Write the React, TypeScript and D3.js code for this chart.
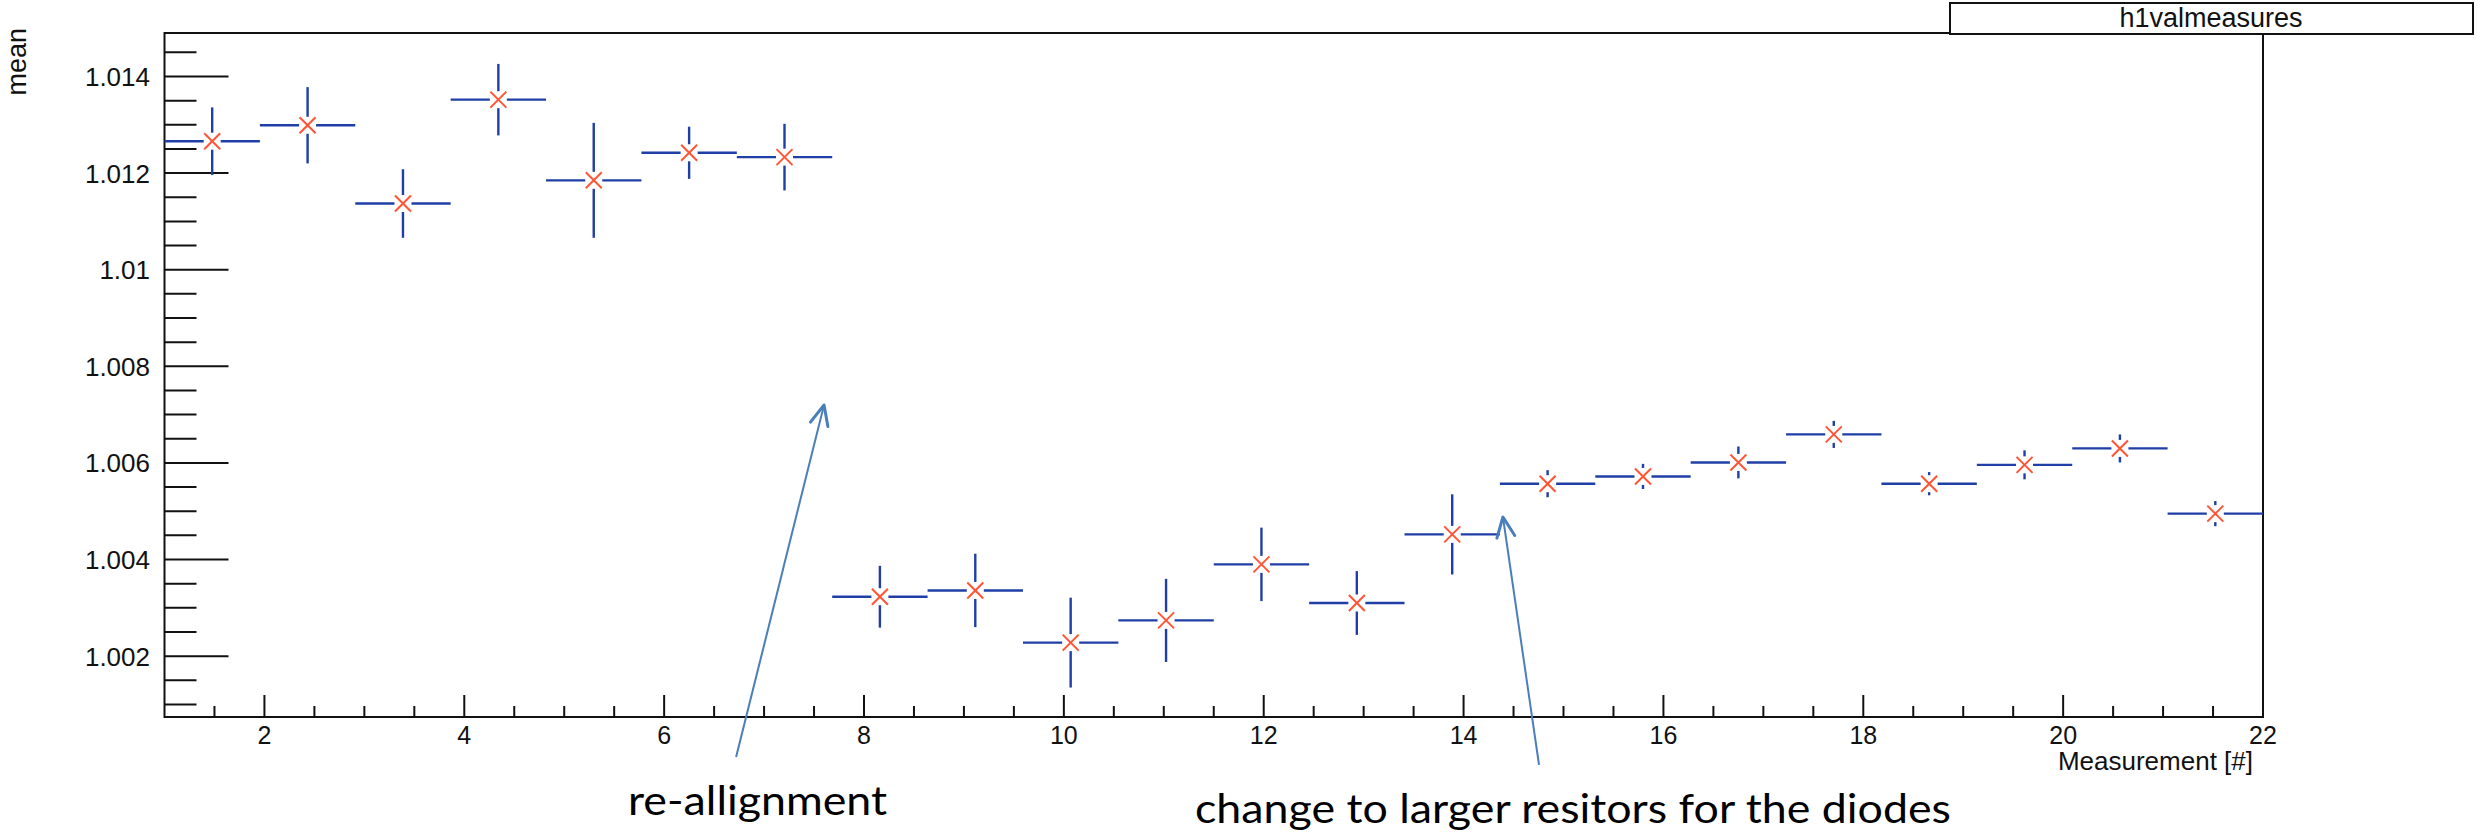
import * as d3 from 'd3';

// histogram h1valmeasures: 22 bins on [1, 22]
const nBins = 22;
const xLow = 1;
const xHigh = 22;

const means = [
  1.01266, 1.01299, 1.01137, 1.01352, 1.01185, 1.01242, 1.01233,
  1.00323, 1.00336, 1.00228, 1.00274, 1.0039, 1.0031, 1.00452,
  1.00557, 1.00572, 1.00601, 1.00659, 1.00557, 1.00596, 1.0063, 1.00495,
];
const errors = [
  0.0007, 0.00079, 0.00071, 0.00074, 0.00119, 0.00054, 0.00069,
  0.00064, 0.00076, 0.00093, 0.00086, 0.00076, 0.00066, 0.00083,
  0.00028, 0.00026, 0.00033, 0.00028, 0.00024, 0.0003, 0.00029, 0.00026,
];

const xMajorTicks = [2, 4, 6, 8, 10, 12, 14, 16, 18, 20, 22];
const yMajorTicks = [1.002, 1.004, 1.006, 1.008, 1.01, 1.012, 1.014];
const yTickLabels = ['1.002', '1.004', '1.006', '1.008', '1.01', '1.012', '1.014'];
const yDomain: [number, number] = [1.00074, 1.0149];

const histTitle = 'h1valmeasures';
const xTitle = 'Measurement [#]';
const yTitle = 'mean';

// arrows in data coordinates (tail below the axis, tip inside the frame)
const notes = [
  { text: 're-allignment', tail: [6.72, 0.99991], tip: [7.6, 1.0072] },
  { text: 'change to larger resitors for the diodes', tail: [14.755, 0.99975], tip: [14.394, 1.00488] },
];
const noteLayout = [
  { x: 628, y: 815, w: 259 },
  { x: 1195, y: 823, w: 756 },
];

const W = 2484;
const H = 836;
const frame = { left: 164.5, right: 2263, top: 33, bottom: 717 };
const rootFont = '"Liberation Sans", Arial, Helvetica, sans-serif';
const errColor = '#1f3ea6';
const markColor = '#ff5435';
const arrowColor = '#4a7ebb';

export default function App() {
  const x = d3.scaleLinear().domain([xLow, xHigh]).range([frame.left, frame.right]);
  const y = d3.scaleLinear().domain(yDomain).range([frame.bottom, frame.top]);
  const binW = (xHigh - xLow) / nBins;

  const xMinor = d3.range(3, 44).map(i => i * 0.5).filter(v => v > xLow && v < xHigh && v % 2 !== 0);
  const yMinor = d3.range(0, 40)
    .map(i => Math.round((1.0005 + i * 0.0005) * 1e5) / 1e5)
    .filter(v => v > yDomain[0] && v < yDomain[1] && !yMajorTicks.some(t => Math.abs(t - v) < 1e-7));

  const gap = 8.5;
  const ms = 8;

  return (
    <svg width={W} height={H} style={{ position: 'absolute', left: 0, top: 0, background: '#fff' }}>
      {/* frame */}
      <rect x={frame.left} y={frame.top} width={frame.right - frame.left} height={frame.bottom - frame.top}
        fill="none" stroke="#111" strokeWidth={2} />

      {/* y axis ticks */}
      {yMajorTicks.map((t, i) => (
        <g key={'ym' + i}>
          <line x1={frame.left} x2={frame.left + 64} y1={y(t)} y2={y(t)} stroke="#111" strokeWidth={2} />
          <text x={150} y={y(t) + 9.5} textAnchor="end" fontFamily={rootFont} fontSize={26} fill="#111">
            {yTickLabels[i]}
          </text>
        </g>
      ))}
      {yMinor.map((t, i) => (
        <line key={'yn' + i} x1={frame.left} x2={frame.left + 32} y1={y(t)} y2={y(t)} stroke="#111" strokeWidth={2} />
      ))}

      {/* x axis ticks */}
      {xMajorTicks.map(t => (
        <g key={'xm' + t}>
          <line x1={x(t)} x2={x(t)} y1={frame.bottom} y2={frame.bottom - 22} stroke="#111" strokeWidth={2} />
          <text x={x(t)} y={744} textAnchor="middle" fontFamily={rootFont} fontSize={25} fill="#111">{t}</text>
        </g>
      ))}
      {xMinor.map((t, i) => (
        <line key={'xn' + i} x1={x(t)} x2={x(t)} y1={frame.bottom} y2={frame.bottom - 11} stroke="#111" strokeWidth={2} />
      ))}

      {/* axis titles */}
      <text x={frame.right - 10} y={770} textAnchor="end" fontFamily={rootFont} fontSize={26} fill="#111">{xTitle}</text>
      <text transform="translate(26,28) rotate(-90)" textAnchor="end" fontFamily={rootFont} fontSize={27} fill="#111">{yTitle}</text>

      {/* histogram points with error bars */}
      {means.map((m, i) => {
        const lo = xLow + i * binW;
        const hi = lo + binW;
        const cx = x(lo + binW / 2);
        const cy = y(m);
        const top = y(m + errors[i]);
        const bot = y(m - errors[i]);
        return (
          <g key={'p' + i}>
            <g stroke={errColor} strokeWidth={2.4}>
              <line x1={x(lo)} x2={cx - gap} y1={cy} y2={cy} />
              <line x1={cx + gap} x2={x(hi)} y1={cy} y2={cy} />
              {cy - top > gap && <line x1={cx} x2={cx} y1={top} y2={cy - gap} />}
              {bot - cy > gap && <line x1={cx} x2={cx} y1={cy + gap} y2={bot} />}
            </g>
            <g stroke={markColor} strokeWidth={2}>
              <line x1={cx - ms} x2={cx + ms} y1={cy - ms} y2={cy + ms} />
              <line x1={cx - ms} x2={cx + ms} y1={cy + ms} y2={cy - ms} />
            </g>
          </g>
        );
      })}

      {/* title box */}
      <rect x={1950} y={3} width={523} height={31} fill="#fff" stroke="#111" strokeWidth={2} />
      <text x={2211} y={27} textAnchor="middle" fontFamily={rootFont} fontSize={27} fill="#111">{histTitle}</text>

      {/* annotations */}
      {notes.map((n, i) => {
        const x0 = x(n.tail[0]), y0 = y(n.tail[1]);
        const x1 = x(n.tip[0]), y1 = y(n.tip[1]);
        const len = Math.hypot(x1 - x0, y1 - y0);
        const ux = (x1 - x0) / len, uy = (y1 - y0) / len;
        const hx = x1 - ux * 20, hy = y1 - uy * 20;
        const head = `${hx - uy * 9},${hy + ux * 9} ${x1},${y1} ${hx + uy * 9},${hy - ux * 9}`;
        const L = noteLayout[i];
        return (
          <g key={'n' + i}>
            <line x1={x0} y1={y0} x2={x1} y2={y1} stroke={arrowColor} strokeWidth={2} />
            <polyline points={head} fill="none" stroke={arrowColor} strokeWidth={3} strokeLinejoin="round" strokeLinecap="round" />
            <text x={L.x} y={L.y} fontFamily="Lato, 'Open Sans', sans-serif" fontSize={40} fill="#000"
              textLength={L.w} lengthAdjust="spacingAndGlyphs">{n.text}</text>
          </g>
        );
      })}
    </svg>
  );
}
